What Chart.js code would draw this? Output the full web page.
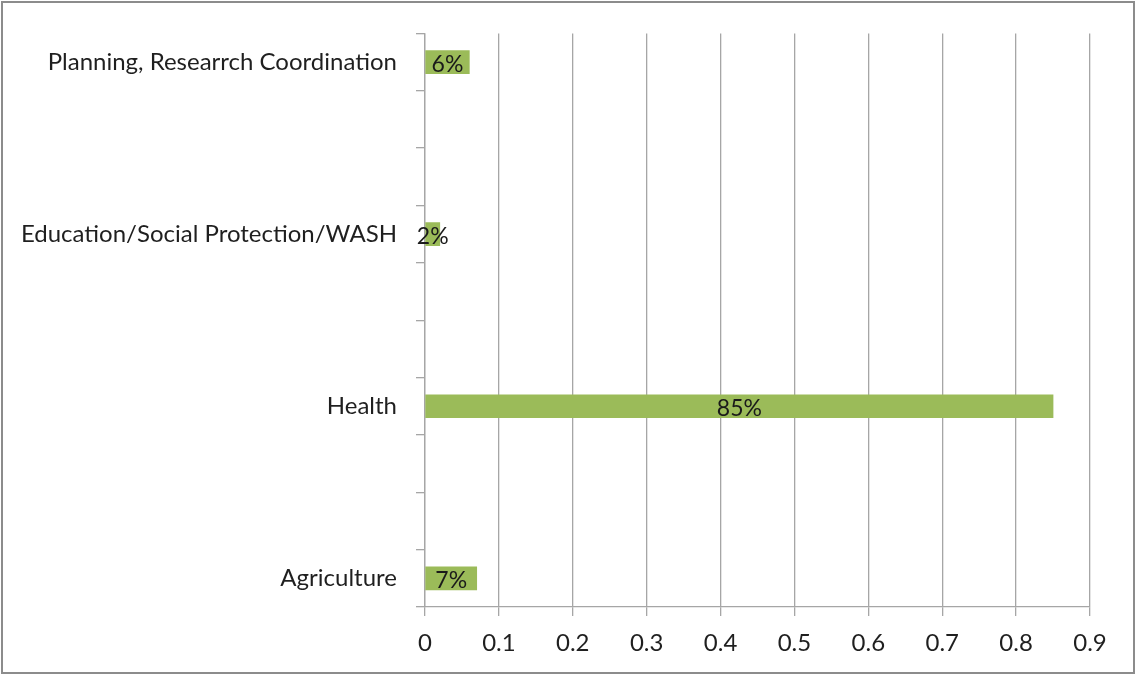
<!DOCTYPE html>
<html>
<head>
<meta charset="utf-8">
<script src="https://cdn.jsdelivr.net/npm/chart.js@4.4.1/dist/chart.umd.min.js"></script>
<style>
  body { margin: 0; background: #fff; }
  #wrap { position: relative; width: 1136px; height: 675px; }
</style>
</head>
<body>
<div id="wrap"><canvas id="sectorChart" width="1136" height="675"></canvas></div>
<script>
// sectors, top to bottom; blank slots keep the spacing between the bars
var sectors = ["Planning, Researrch Coordination", "", "", "Education/Social Protection/WASH", "", "", "Health", "", "", "Agriculture"];
var shares = [0.06, null, null, 0.02, null, null, 0.85, null, null, 0.07];
var xTicks = [0, 0.1, 0.2, 0.3, 0.4, 0.5, 0.6, 0.7, 0.8, 0.9];

var fontFamily = "Lato, 'Open Sans', sans-serif";

// percentage text in the middle of each bar
var barLabels = {
	id: "barLabels",
	afterDatasetsDraw: function (chart) {
		var ctx = chart.ctx;
		var meta = chart.getDatasetMeta(0);
		ctx.save();
		ctx.font = "23px " + fontFamily;
		ctx.fillStyle = "#1a1a1a";
		ctx.textAlign = "center";
		ctx.textBaseline = "middle";
		meta.data.forEach(function (bar, i) {
			var v = shares[i];
			if (v === null) return;
			var cx = (bar.x + bar.base) / 2;
			ctx.fillText(Math.round(v * 100) + "%", cx, bar.y + 2);
		});
		ctx.restore();
	}
};

// grey frame round the whole picture
var frame = {
	id: "frame",
	beforeDraw: function (chart) {
		var ctx = chart.ctx;
		ctx.save();
		ctx.fillStyle = "#fff";
		ctx.fillRect(0, 0, chart.width, chart.height);
		ctx.strokeStyle = "#8c8c8c";
		ctx.lineWidth = 2;
		ctx.strokeRect(2, 2, chart.width - 4, chart.height - 4);
		ctx.restore();
	}
};

var ctx = document.getElementById("sectorChart").getContext("2d");
new Chart(ctx, {
	type: "bar",
	data: {
		labels: sectors,
		datasets: [{
			data: shares,
			backgroundColor: "#9bbb59",
			borderWidth: 0,
			barThickness: 23
		}]
	},
	options: {
		indexAxis: "y",
		responsive: false,
		animation: false,
		layout: { padding: { top: 30, right: 46, bottom: 0, left: 0 } },
		plugins: {
			legend: { display: false },
			tooltip: { enabled: false }
		},
		scales: {
			x: {
				min: 0,
				max: 0.9,
				afterBuildTicks: function (scale) {
					scale.ticks = xTicks.map(function (v) { return { value: v }; });
				},
				afterFit: function (scale) { scale.height = 68; },
				grid: {
					color: "#a6a6a6",
					lineWidth: 1.3,
					tickLength: 9,
					tickColor: "#a6a6a6"
				},
				border: { color: "#a6a6a6", width: 1.3 },
				ticks: {
					padding: 13,
					color: "#1f1f1f",
					font: { family: fontFamily, size: 24 },
					callback: function (v) { return String(Math.round(v * 10) / 10); }
				}
			},
			y: {
				afterFit: function (scale) { scale.width = 425; },
				grid: {
					drawOnChartArea: false,
					tickLength: 9,
					tickColor: "#a6a6a6",
					lineWidth: 1.3
				},
				border: { color: "#a6a6a6", width: 1.3 },
				ticks: {
					padding: 19,
					autoSkip: false,
					color: "#1f1f1f",
					font: { family: fontFamily, size: 24 }
				}
			}
		}
	},
	plugins: [frame, barLabels]
});
</script>
</body>
</html>
